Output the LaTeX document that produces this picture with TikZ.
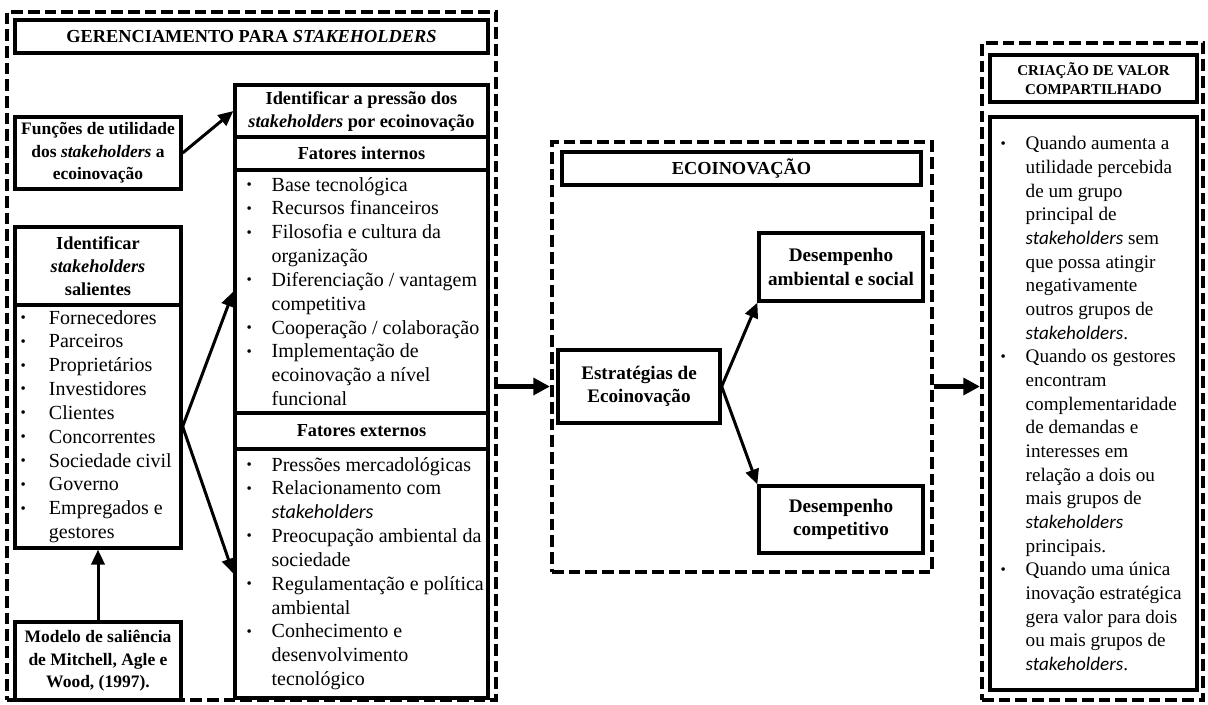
\documentclass[tikz,border=0pt]{standalone}
\usepackage{fontspec}
\setmainfont{Liberation Serif}
\newfontfamily\cali{Carlito}
\usepackage{tikz}
\usetikzlibrary{positioning,calc,arrows.meta}
\newcommand{\stk}{{\cali\itshape stakeholders}}
\newcommand{\itm}[1][15pt]{\makebox[#1][l]{\raisebox{1pt}{\fontsize{9}{9}\selectfont\textbullet}}}
\newcommand{\cnt}[1][15pt]{\makebox[#1]{}}
\tikzset{
  wh/.style 2 args = {minimum width=#1, minimum height=#2},
  grp/.style     = {draw=black, line width=2.4pt, dash pattern=on 7pt off 3pt, inner sep=0pt},
  box/.style     = {draw=black, line width=2pt, inner sep=0pt, align=center},
  hdr/.style     = {box, font=\bfseries\fontsize{11}{13.8}\selectfont},
  hdrs/.style    = {box, font=\bfseries\fontsize{10.5}{13.5}\selectfont},
  hdre/.style    = {box, font=\bfseries\fontsize{11.5}{14}\selectfont},
  lsttxt/.style  = {anchor=west, align=left, inner sep=0pt, font=\fontsize{12}{14.3}\selectfont},
  arr/.style     = {-{Triangle[length=9pt,width=8pt]}, line width=1.8pt},
  bigarr/.style  = {-{Triangle[length=10pt,width=10pt]}, line width=2.6pt},
}

\begin{document}
\begin{tikzpicture}[x=0.6pt,y=-0.6pt]
  \useasboundingbox (0,0) rectangle (1208,704);

  % gerenciamento para stakeholders
  \node[grp, wh={293.4pt}{412.8pt}] (gerg) at (251.5,356) {};
  \node[hdr, wh={283.8pt}{19.8pt}] (ger) at (251.5,36.5) {GERENCIAMENTO PARA \textit{STAKEHOLDERS}};
  \node[hdrs, wh={99.6pt}{43.2pt}] (func) at (98,153) {Funções de utilidade\\dos \textit{stakeholders} a\\ecoinovação};
  \node[hdr, wh={99.6pt}{46.8pt}] (sal) at (98,266) {Identificar\\\textit{stakeholders}\\salientes};
  \node[box, wh={99.6pt}{145.8pt}] (lsal) at (98,426.5) {};
  \node[lsttxt] (lsal-t) at ([xshift=4.2pt]lsal.west) {\itm[17pt]Fornecedores\\ \itm[17pt]Parceiros\\ \itm[17pt]Proprietários\\ \itm[17pt]Investidores\\ \itm[17pt]Clientes\\ \itm[17pt]Concorrentes\\ \itm[17pt]Sociedade civil\\ \itm[17pt]Governo\\ \itm[17pt]Empregados e\\ \cnt[17pt]gestores};
  \node[hdrs, wh={99.6pt}{46.8pt}] (mod) at (98,661) {Modelo de saliência\\de Mitchell, Agle e\\Wood, (1997).};

  \node[hdr, wh={151.8pt}{31.2pt}] (press) at (361.5,111) {Identificar a pressão dos\\\textit{stakeholders} por ecoinovação};
  \node[hdr, wh={151.8pt}{19.8pt}] (fint) at (361.5,153.5) {Fatores internos};
  \node[box, wh={151.8pt}{145.8pt}] (lint) at (361.5,291.5) {};
  \node[lsttxt] (lint-t) at ([xshift=7.8pt]lint.west) {\itm Base tecnológica\\ \itm Recursos financeiros\\ \itm Filosofia e cultura da\\ \cnt organização\\ \itm Diferenciação / vantagem\\ \cnt competitiva\\ \itm Cooperação / colaboração\\ \itm Implementação de\\ \cnt ecoinovação a nível\\ \cnt funcional};
  \node[hdr, wh={151.8pt}{21.6pt}] (fext) at (361.5,431) {Fatores externos};
  \node[box, wh={151.8pt}{149.4pt}] (lext) at (361.5,573.5) {};
  \node[lsttxt] (lext-t) at ([xshift=7.8pt]lext.west) {\itm Pressões mercadológicas\\ \itm Relacionamento com\\ \cnt\stk\\ \itm Preocupação ambiental da\\ \cnt sociedade\\ \itm Regulamentação e política\\ \cnt ambiental\\ \itm Conhecimento e\\ \cnt desenvolvimento\\ \cnt tecnológico};

  % ecoinovacao
  \node[grp, wh={228pt}{258pt}] (ecog) at (742,357) {};
  \node[hdr, wh={215.4pt}{19.8pt}] (eco) at (741.5,168.5) {ECOINOVAÇÃO};
  \node[hdre, wh={97.2pt}{43.8pt}] (estr) at (639,386.5) {Estratégias de\\Ecoinovação};
  \node[hdre, wh={98.4pt}{40.8pt}] (amb) at (841,267) {Desempenho\\ambiental e social};
  \node[hdre, wh={98.4pt}{40.2pt}] (comp) at (841,519.5) {Desempenho\\competitivo};

  % criacao de valor compartilhado
  \node[grp, wh={132.6pt}{394.2pt}] (cvcg) at (1092.5,371.5) {};
  \node[box, font=\bfseries\fontsize{9}{11.4}\selectfont, wh={124.2pt}{28.2pt}] (cvc) at (1093.5,78.5) {CRIAÇÃO DE VALOR\\COMPARTILHADO};
  \node[box, wh={124.2pt}{343.8pt}] (lcvc) at (1093.5,403.5) {};
  \node[lsttxt, font=\fontsize{11.5}{14.2}\selectfont] (lcvc-t) at ([xshift=7.2pt]lcvc.west) {\itm Quando aumenta a\\ \cnt utilidade percebida\\ \cnt de um grupo\\ \cnt principal de\\ \cnt\stk{} sem\\ \cnt que possa atingir\\ \cnt negativamente\\ \cnt outros grupos de\\ \cnt\stk.\\ \itm Quando os gestores\\ \cnt encontram\\ \cnt complementaridade\\ \cnt de demandas e\\ \cnt interesses em\\ \cnt relação a dois ou\\ \cnt mais grupos de\\ \cnt\stk\\ \cnt principais.\\ \itm Quando uma única\\ \cnt inovação estratégica\\ \cnt gera valor para dois\\ \cnt ou mais grupos de\\ \cnt\stk.};

  % connectors
  \draw[arr] (func.east) -- (press.west);
  \draw[arr] (lsal.east) -- (lint.west);
  \draw[arr] (lsal.east) -- (lext.west);
  \draw[arr] (mod.north) -- (lsal.south);
  \draw[bigarr] (gerg.east |- estr.west) -- (ecog.west |- estr.west);
  \draw[arr] (estr.east) -- (amb.south west);
  \draw[arr] (estr.east) -- (comp.north west);
  \draw[bigarr] (ecog.east |- estr.west) -- (cvcg.west |- estr.west);
\end{tikzpicture}
\end{document}
